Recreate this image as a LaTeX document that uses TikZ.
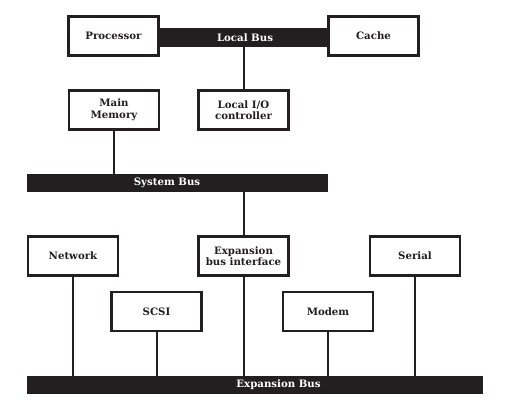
\documentclass[tikz,border=0pt]{standalone}
\usepackage{fontspec}
\setmainfont{DejaVu Serif}
\begin{document}
\begin{tikzpicture}[x=1pt,y=-1pt,
  box/.style={draw=ink,line width=2.6pt,fill=white,minimum width=90pt,minimum height=39pt,inner sep=1pt,align=center,font=\bfseries\fontsize{10.2}{11.5}\selectfont,text=ink},
  bar/.style={fill=ink,draw=none,inner sep=0pt},
  barlabel/.style={text=white,font=\bfseries\fontsize{10.2}{11.5}\selectfont,inner sep=0pt},
  wire/.style={draw=ink,line width=2pt}]
\definecolor{ink}{HTML}{231F20}
\useasboundingbox (0,0) rectangle (505,406);
% top
\node[bar,minimum width=167pt,minimum height=19pt] (localbus) at (243.5,37.5) {};
\node[barlabel] (localbuslabel) at (245,37.5) {Local Bus};
\node[box] (proc) at (113.5,36) {Processor};
\node[box] (cache) at (373.5,36) {Cache};
\node[box] (mem) at (114,110) {Main\\Memory};
\node[box] (lio) at (243.5,110) {Local I/O\\controller};
\node[bar,minimum width=301pt,minimum height=18pt] (sysbus) at (177.5,183) {};
\node[barlabel] (sysbuslabel) at (167,183) {System Bus};
% bottom
\node[box] (net) at (73,256) {Network};
\node[box] (ebi) at (243.5,256) {Expansion\\bus interface};
\node[box] (serial) at (415,256) {Serial};
\node[box] (scsi) at (156.5,311.5) {SCSI};
\node[box] (modem) at (328,311.5) {Modem};
\node[bar,minimum width=456pt,minimum height=18pt] (expbus) at (255,385) {};
\node[barlabel] (expbuslabel) at (278.5,385) {Expansion Bus};
% wires
\draw[wire] (lio.north |- localbus.south) -- (lio.north);
\draw[wire] (mem.south) -- (mem.south |- sysbus.north);
\draw[wire] (ebi.north |- sysbus.south) -- (ebi.north);
\foreach \n in {net,scsi,ebi,modem,serial}
  \draw[wire] (\n.south) -- (\n.south |- expbus.north);
\end{tikzpicture}
\end{document}
